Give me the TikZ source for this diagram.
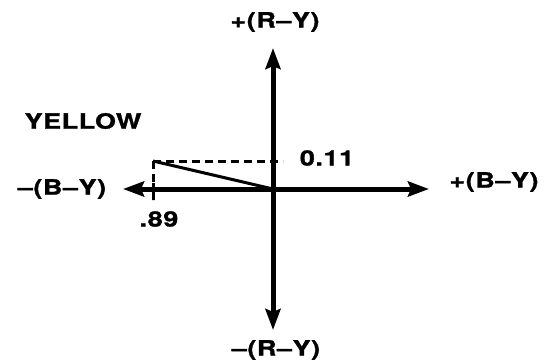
\documentclass[tikz,border=0pt]{standalone}
\usepackage{fontspec}
\setmainfont{TeX Gyre Heros}
\newfontfamily\lblfont[FakeStretch=1.28,LetterSpace=3,FakeBold=1.5]{TeX Gyre Heros}
\usetikzlibrary{arrows.meta}
\begin{document}
\begin{tikzpicture}[x=1pt,y=-1pt,
  axis/.style={line width=5pt,{Stealth[length=21pt,width=15pt,inset=3pt]}-{Stealth[length=21pt,width=15pt,inset=3pt]}},
  thin/.style={line width=3pt},
  dsh/.style={line width=3pt,dash pattern=on 8pt off 5pt},
  lbl/.style={font=\lblfont\bfseries\fontsize{21}{24}\selectfont,inner sep=0pt}]
\useasboundingbox (0,0) rectangle (550,360);
\coordinate (O) at (273,189);
\coordinate (T) at (273,48);
\coordinate (B) at (273,330);
\coordinate (L) at (123,189);
\coordinate (R) at (429,189);
\coordinate (P) at (153,161);
\coordinate (De) at (283,161);
\coordinate (Tk) at (153,200);
\draw[axis] (B) -- (T);
\draw[axis] (L) -- (R);
\draw[thin] (P) -- (O);
\draw[dsh] (P) -- (De);
\draw[dsh] (P) -- (Tk);
\draw[line width=3pt] (153,183) -- (Tk);
\node[lbl] (rp) at (275,22) {+(R–Y)};
\node[lbl] (rm) at (276,350) {–(R–Y)};
\node[lbl] (bm) at (62,189) {–(B–Y)};
\node[lbl] (bp) at (494,182) {+(B–Y)};
\node[lbl] (yel) at (83,121) {YELLOW};
\node[lbl] (v11) at (327,158) {0.11};
\node[lbl] (v89) at (159,219) {.89};
\end{tikzpicture}
\end{document}
